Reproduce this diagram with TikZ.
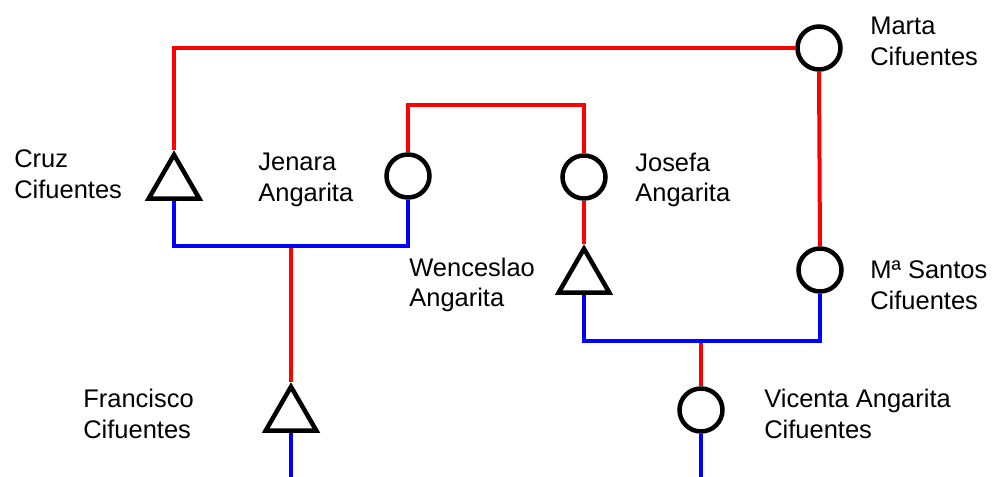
\documentclass[tikz,border=0pt]{standalone}
\usepackage{fontspec}
\setmainfont{Liberation Sans}
\usetikzlibrary{shapes.geometric}
\tikzset{
  woman/.style={circle,draw,line width=0.09cm,minimum size=0.86cm,inner sep=0pt},
  man/.style={regular polygon,regular polygon sides=3,draw,line width=0.09cm,minimum size=1.17cm,inner sep=0pt},
  kin/.style={red,line width=0.08cm},
  wed/.style={blue,line width=0.08cm},
  lbl/.style={anchor=west,align=left,inner sep=0pt,font=\fontsize{14.5}{17.5}\selectfont}
}
\begin{document}
\begin{tikzpicture}[x=0.02cm,y=-0.02cm]
\useasboundingbox(0,0)rectangle(992,477);
%people
\node[man](cruz)at(174,184){};
\node[woman](jenara)at(408,176){};
\node[woman](josefa)at(584,177){};
\node[woman](marta)at(819,48){};
\node[man](wenceslao)at(584,278){};
\node[woman](santos)at(820,270){};
\node[man](francisco)at(291,416){};
\node[woman](vicenta)at(701,410){};
%names
\node[lbl](cruzL)at(14,174){Cruz\\Cifuentes};
\node[lbl](jenaraL)at(258,180){Jenara\\Angarita};
\node[lbl](josefaL)at(635,180){Josefa\\Angarita};
\node[lbl](martaL)at(870,41){Marta\\Cifuentes};
\node[lbl](wenceslaoL)at(409,285){Wenceslao\\Angarita};
\node[lbl](santosL)at(870,285){Mª Santos\\Cifuentes};
\node[lbl](franciscoL)at(83,414){Francisco\\Cifuentes};
\node[lbl](vicentaL)at(764,414){Vicenta Angarita\\Cifuentes};
%joints
\coordinate(jj)at(495,105);
\coordinate(cj)at(291,246);
\coordinate(ws)at(701,341);
\coordinate(fEnd)at(291,477);
\coordinate(vEnd)at(701,477);
%red lines
\draw[kin](cruz.north)|-(marta.west);
\draw[kin](marta.south)--(santos.north);
\draw[kin](jenara.north)|-(jj)-|(josefa.north);
\draw[kin](josefa.south)--(wenceslao.north);
\draw[kin](cj)--(francisco.north);
\draw[kin](ws)--(vicenta.north);
%blue lines
\draw[wed](cruz.south)|-(cj)-|(jenara.south);
\draw[wed](wenceslao.south)|-(ws)-|(santos.south);
\draw[wed](francisco.south)--(fEnd);
\draw[wed](vicenta.south)--(vEnd);
\end{tikzpicture}
\end{document}
